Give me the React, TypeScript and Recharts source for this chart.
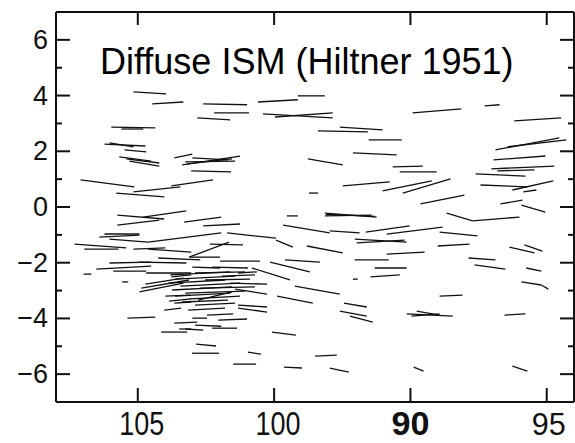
import React from "react";
import { ComposedChart, XAxis, YAxis, ReferenceLine } from "recharts";

// Galactic longitude / latitude polarization vectors, each as [x1, y1, x2, y2] in data units
const upperSegments: number[][] = [
  [105.16, 4.13, 103.96, 4.06],
  [104.47, 3.7, 103.33, 3.77],
  [102.6, 3.7, 100.99, 3.67],
  [102.82, 3.2, 101.61, 3.13],
  [102.2, 3.38, 100.92, 3.38],
  [100.59, 3.77, 99.13, 3.85],
  [99.13, 3.99, 98.14, 3.99],
  [100.41, 3.34, 97.85, 3.2],
  [99.97, 3.23, 97.85, 3.38],
  [94.92, 3.38, 93.13, 3.52],
  [92.28, 3.63, 91.73, 3.67],
  [91.19, 3.09, 89.47, 3.2],
  [105.97, 2.87, 104.36, 2.84],
  [105.6, 2.8, 104.8, 2.8],
  [106.22, 2.26, 104.72, 2.19],
  [106.04, 2.3, 105.16, 2.16],
  [105.49, 2.05, 104.69, 1.98],
  [105.68, 1.8, 104.51, 1.65],
  [105.42, 1.73, 104.21, 1.58],
  [105.31, 1.65, 104.21, 1.47],
  [103.66, 1.76, 103.0, 1.9],
  [103.37, 1.51, 101.25, 1.83],
  [103.26, 1.62, 101.43, 1.65],
  [103.19, 1.55, 101.54, 1.73],
  [103.0, 1.76, 101.69, 1.69],
  [103.04, 1.3, 101.58, 1.26],
  [98.39, 2.73, 96.56, 2.7],
  [97.59, 2.87, 96.02, 2.77],
  [96.53, 2.41, 95.32, 2.41],
  [97.11, 1.94, 95.5, 1.87],
  [98.76, 1.73, 97.48, 1.51],
  [95.65, 1.44, 94.55, 1.47],
  [95.39, 1.26, 94.04, 1.26],
  [91.88, 2.05, 89.54, 2.48],
  [91.44, 2.16, 89.28, 2.41],
  [91.95, 1.69, 90.05, 1.83],
  [92.03, 1.37, 89.72, 1.47],
  [92.61, 1.19, 90.78, 1.11],
  [91.81, 1.3, 90.45, 1.33],
];

const middleSegments: number[][] = [
  [107.1, 0.97, 105.13, 0.72],
  [105.16, 0.54, 103.44, 0.72],
  [103.77, 0.76, 102.24, 0.97],
  [105.79, 0.5, 104.03, 0.36],
  [98.72, 0.5, 98.39, 0.5],
  [97.48, 0.76, 95.76, 0.9],
  [96.02, 0.58, 94.22, 0.94],
  [95.28, 0.5, 93.53, 1.01],
  [94.63, 0.11, 93.02, 0.43],
  [92.43, 0.79, 90.71, 0.72],
  [91.26, 0.61, 89.76, 0.94],
  [90.86, 0.54, 90.38, 0.61],
  [91.7, 0.11, 90.89, 0.25],
  [90.93, 0.07, 90.05, -0.18],
  [93.67, -0.22, 92.72, -0.5],
  [92.72, -0.5, 91.0, -0.36],
  [98.14, -0.22, 96.24, -0.36],
  [98.1, -0.26, 96.3, -0.34],
  [98.14, -0.32, 96.42, -0.29],
  [99.53, -0.32, 99.13, -0.32],
  [105.75, -0.29, 104.03, -0.43],
  [104.8, -0.36, 103.22, -0.14],
  [105.75, -0.65, 104.21, -0.47],
  [103.3, -0.54, 101.94, -0.36],
  [102.6, -0.68, 101.25, -0.61],
  [99.67, -0.65, 97.96, -0.93],
  [106.22, -0.97, 104.94, -0.97],
  [106.41, -1.08, 104.94, -1.01],
  [106.04, -1.15, 104.62, -1.26],
  [104.62, -1.26, 101.94, -0.93],
  [101.72, -0.93, 99.93, -1.12],
  [99.93, -1.19, 99.31, -1.44],
  [97.96, -0.86, 96.86, -0.93],
  [96.64, -0.9, 95.03, -0.68],
  [95.87, -0.97, 93.82, -0.72],
  [93.93, -0.9, 92.54, -1.04],
  [97.04, -1.15, 95.14, -1.26],
  [96.97, -1.29, 95.21, -1.19],
  [98.8, -1.4, 97.48, -1.65],
  [94.0, -1.4, 92.83, -1.33],
  [91.37, -1.44, 90.45, -1.65],
  [90.82, -1.36, 90.16, -1.58],
  [102.35, -1.33, 101.14, -1.36],
  [101.65, -1.26, 103.12, -1.8],
];

const lowerSegments: number[][] = [
  [107.32, -1.33, 105.42, -1.47],
  [106.96, -1.51, 105.71, -1.51],
  [105.16, -1.51, 103.99, -1.47],
  [104.62, -1.51, 103.04, -1.62],
  [104.25, -1.83, 102.71, -1.9],
  [106.04, -2.01, 104.51, -1.98],
  [104.98, -1.98, 103.22, -2.01],
  [106.52, -2.23, 104.51, -2.12],
  [105.9, -2.3, 104.69, -2.3],
  [104.69, -2.37, 103.04, -2.37],
  [103.77, -2.51, 103.04, -2.44],
  [106.99, -2.41, 106.7, -2.41],
  [105.57, -2.69, 105.35, -2.69],
  [104.72, -2.77, 103.33, -2.55],
  [104.87, -2.91, 103.12, -2.62],
  [104.94, -3.05, 103.33, -2.73],
  [103.08, -1.8, 101.98, -1.8],
  [101.98, -1.94, 100.52, -1.94],
  [100.15, -1.98, 98.69, -2.33],
  [99.6, -1.9, 98.32, -1.98],
  [103.0, -2.16, 101.98, -2.19],
  [102.27, -2.16, 100.96, -2.19],
  [100.81, -2.19, 99.42, -2.62],
  [101.32, -2.37, 100.63, -2.33],
  [101.91, -2.48, 100.7, -2.44],
  [99.24, -2.84, 97.59, -3.13],
  [101.61, -2.73, 100.26, -2.77],
  [101.43, -2.95, 100.26, -3.13],
  [99.89, -3.2, 98.58, -3.45],
  [101.32, -3.52, 100.26, -3.59],
  [101.32, -3.63, 100.26, -3.77],
  [102.05, -4.06, 100.99, -4.02],
  [102.46, -3.88, 101.5, -3.84],
  [102.9, -4.24, 101.94, -4.28],
  [102.27, -4.35, 101.36, -4.35],
  [103.26, -4.38, 102.6, -4.42],
  [103.66, -4.17, 102.82, -4.13],
  [103.48, -4.38, 103.04, -4.38],
  [105.38, -3.99, 104.36, -3.95],
  [104.14, -4.49, 103.19, -4.49],
  [104.03, -3.7, 103.41, -3.63],
  [103.0, -3.99, 102.46, -3.99],
  [103.66, -3.45, 103.04, -3.41],
  [100.08, -4.49, 99.2, -4.6],
  [102.86, -4.92, 102.13, -4.99],
  [103.01, -5.25, 102.02, -5.25],
  [100.96, -5.21, 100.48, -5.28],
  [101.5, -5.64, 100.66, -5.64],
  [99.64, -5.75, 98.98, -5.78],
  [98.5, -5.35, 97.7, -5.32],
  [97.96, -5.78, 97.26, -5.93],
  [94.88, -5.75, 94.52, -5.89],
  [91.26, -5.71, 90.71, -5.89],
  [97.04, -1.9, 95.8, -1.9],
  [92.87, -1.83, 91.88, -1.9],
  [96.31, -2.19, 95.14, -2.19],
  [92.65, -2.08, 91.52, -2.23],
  [90.75, -2.19, 90.2, -2.3],
  [96.46, -2.51, 95.39, -2.44],
  [97.11, -2.59, 96.93, -2.59],
  [90.93, -2.69, 90.2, -2.8],
  [90.2, -2.8, 89.94, -2.95],
  [93.93, -3.2, 93.09, -3.16],
  [97.44, -3.45, 96.6, -3.59],
  [97.59, -3.74, 96.6, -3.92],
  [97.22, -3.92, 96.38, -4.13],
  [95.14, -3.84, 93.45, -3.92],
  [94.77, -3.74, 93.93, -3.88],
  [94.96, -3.92, 93.93, -3.84],
  [91.55, -3.88, 90.78, -3.84],
  [95.87, -1.69, 94.48, -1.62],
];

const clusterSegments: number[][] = [
  [103.81, -2.44, 101.61, -2.33],
  [103.63, -2.59, 101.43, -2.48],
  [103.88, -2.73, 101.8, -2.62],
  [103.44, -2.84, 101.25, -2.73],
  [103.74, -2.98, 101.54, -2.87],
  [103.26, -3.09, 101.07, -3.02],
  [103.63, -3.2, 101.61, -3.09],
  [103.08, -3.3, 101.25, -3.2],
  [103.37, -3.41, 101.69, -3.34],
  [102.9, -3.52, 101.43, -3.45],
  [102.71, -2.91, 100.7, -2.87],
  [102.53, -2.62, 100.88, -2.59],
  [102.9, -2.37, 101.07, -2.33],
  [103.15, -3.7, 101.8, -3.63],
  [103.99, -3.2, 103.08, -3.16],
  [103.85, -3.38, 103.04, -3.3],
  [102.79, -3.34, 101.54, -3.05],
];

const xDomain = [89, 108];
const yDomain = [-7, 7];
const xTickValues = [105, 100, 95, 90];
const xTickLabels = ["105", "100", "90", "95"];
const yMajorTicks = [6, 4, 2, 0, -2, -4, -6];
const yMinorTicks = [5, 3, 1, -1, -3, -5];
const yAllTicks = [...yMajorTicks, ...yMinorTicks].sort((a, b) => b - a);
const title = "Diffuse ISM (Hiltner 1951)";

const INK = "#111";
const SANS = "'Liberation Sans', Arial, Helvetica, sans-serif";

const fmtY = (v: number) => (v < 0 ? "\u2212" + Math.abs(v) : String(v));

const LeftTick = (props: any) => {
  const { x, y, payload } = props;
  const v = payload.value;
  const major = yMajorTicks.includes(v);
  return (
    <g>
      <line x1={x} y1={y} x2={x + (major ? 14 : 6)} y2={y} stroke={INK} strokeWidth={2} />
      {major && (
        <text x={x - 8} y={y} textAnchor="end" dominantBaseline="central" fontSize={27} fontFamily={SANS} fill={INK}>
          {fmtY(v)}
        </text>
      )}
    </g>
  );
};

const RightTick = (props: any) => {
  const { x, y, payload } = props;
  const major = yMajorTicks.includes(payload.value);
  return <line x1={x} y1={y} x2={x - (major ? 14 : 6)} y2={y} stroke={INK} strokeWidth={2} />;
};

const TopTick = (props: any) => {
  const { x, y } = props;
  return <line x1={x} y1={y} x2={x} y2={y + 13} stroke={INK} strokeWidth={2} />;
};

const BottomTick = (props: any) => {
  const { x, y, payload } = props;
  const i = xTickValues.indexOf(payload.value);
  const label = xTickLabels[i];
  let style: any = { fontSize: 33, fontWeight: 400, dx: 4, len: 45 };
  if (label === "90") style = { fontSize: 34, fontWeight: 700, dx: 0, len: 38 };
  if (label === "95") style = { fontSize: 32, fontWeight: 400, dx: 2, len: 34 };
  return (
    <g>
      <line x1={x} y1={y} x2={x} y2={y - 14} stroke={INK} strokeWidth={2} />
      <text
        x={x + style.dx}
        y={y + 33}
        textAnchor="middle"
        fontSize={style.fontSize}
        fontFamily={SANS}
        fontWeight={style.fontWeight}
        textLength={style.len}
        lengthAdjust="spacingAndGlyphs"
        fill={INK}
      >
        {label}
      </text>
    </g>
  );
};

const allSegments = [...upperSegments, ...middleSegments, ...lowerSegments, ...clusterSegments];

export default function App() {
  return (
    <div style={{ position: "absolute", left: 0, top: 0, width: 575, height: 443, background: "#fff" }}>
      <ComposedChart width={575} height={443} margin={{ top: 0, right: 0, bottom: 0, left: 0 }}>
        <XAxis
          xAxisId={0}
          type="number"
          dataKey="x"
          domain={xDomain}
          reversed
          allowDataOverflow
          ticks={xTickValues}
          interval={0}
          height={41}
          tickSize={0}
          tickMargin={0}
          tickLine={false}
          axisLine={{ stroke: INK, strokeWidth: 2 }}
          tick={<BottomTick />}
        />
        <XAxis
          xAxisId="top"
          orientation="top"
          type="number"
          dataKey="x"
          domain={xDomain}
          reversed
          allowDataOverflow
          ticks={xTickValues}
          interval={0}
          height={12}
          tickSize={0}
          tickMargin={0}
          tickLine={false}
          axisLine={{ stroke: INK, strokeWidth: 2 }}
          tick={<TopTick />}
        />
        <YAxis
          yAxisId={0}
          type="number"
          dataKey="y"
          domain={yDomain}
          allowDataOverflow
          ticks={yAllTicks}
          interval={0}
          width={56}
          tickSize={0}
          tickMargin={0}
          tickLine={false}
          axisLine={{ stroke: INK, strokeWidth: 2 }}
          tick={<LeftTick />}
        />
        <YAxis
          yAxisId="right"
          orientation="right"
          type="number"
          dataKey="y"
          domain={yDomain}
          allowDataOverflow
          ticks={yAllTicks}
          interval={0}
          width={1}
          tickSize={0}
          tickMargin={0}
          tickLine={false}
          axisLine={{ stroke: INK, strokeWidth: 2 }}
          tick={<RightTick />}
        />
        {allSegments.map((s, i) => (
          <ReferenceLine
            key={i}
            xAxisId={0}
            yAxisId={0}
            segment={[
              { x: s[0], y: s[1] },
              { x: s[2], y: s[3] },
            ]}
            stroke={INK}
            strokeWidth={1.3}
            ifOverflow="visible"
          />
        ))}
      </ComposedChart>
      <div
        style={{
          position: "absolute",
          left: 100,
          top: 43.5,
          fontFamily: SANS,
          fontSize: 36,
          lineHeight: "36px",
          color: "#000",
          whiteSpace: "nowrap",
        }}
      >
        {title}
      </div>
    </div>
  );
}
